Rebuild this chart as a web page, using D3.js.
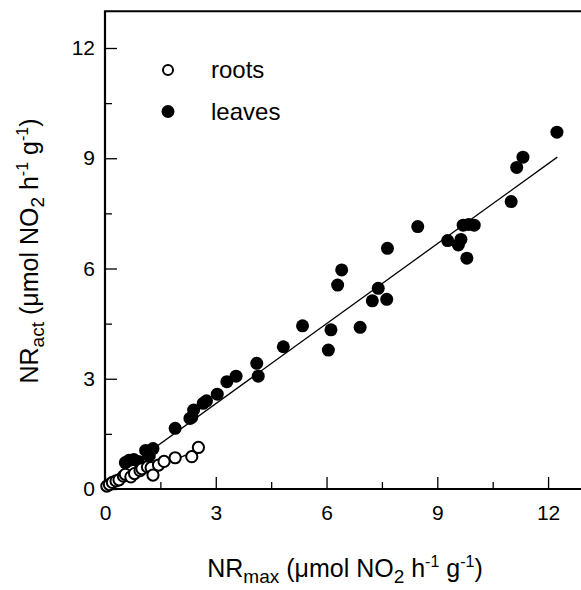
<!DOCTYPE html>
<html>
<head>
<meta charset="utf-8">
<script src="https://cdn.jsdelivr.net/npm/d3@7/dist/d3.min.js"></script>
<style>
  html, body { margin: 0; padding: 0; background: #fff; }
  svg { display: block; font-family: "Liberation Sans", Arial, sans-serif; }
</style>
</head>
<body>
<svg id="chart" width="581" height="590"></svg>
<script>
// ---- data ----
const leavesX = [0.55,0.65,0.78,0.9,1.1,1.3,1.2,1.9,2.3,2.4,2.35,2.66,2.75,3.04,3.3,3.55,4.11,4.15,4.83,5.35,6.05,6.12,6.91,6.30,6.41,7.24,7.40,7.63,7.65,8.47,9.28,9.57,9.64,9.80,9.70,9.85,10.0,11.0,11.15,11.32,12.24];
const leavesY = [0.72,0.78,0.8,0.75,1.05,1.1,0.9,1.65,1.92,2.15,1.95,2.33,2.40,2.58,2.92,3.07,3.42,3.07,3.87,4.44,3.78,4.33,4.40,5.55,5.96,5.12,5.46,5.16,6.55,7.14,6.76,6.64,6.79,6.28,7.18,7.2,7.18,7.82,8.75,9.03,9.71];
const rootsX = [0.05,0.12,0.2,0.3,0.38,0.5,0.55,0.7,0.8,0.95,1.0,1.15,1.25,1.3,1.45,1.6,1.9,2.35,2.53];
const rootsY = [0.08,0.12,0.18,0.22,0.25,0.35,0.4,0.33,0.42,0.5,0.55,0.6,0.58,0.38,0.65,0.75,0.85,0.88,1.13];
const leavesFitX = [0.1, 12.25];
const leavesFitY = [0.22, 9.03];
const rootsFitX = [0.05, 2.5];
const rootsFitY = [0.04, 1.05];
const majorTicks = [0, 3, 6, 9, 12];
const minorTicks = [1.5, 4.5, 7.5, 10.5];
const legendLabels = ["roots", "leaves"];

// ---- layout ----
const svg = d3.select("#chart");
const x = d3.scaleLinear().domain([0, 13]).range([105, 585]);
const y = d3.scaleLinear().domain([0, 13]).range([489, 11.25]);
const FONT = "Liberation Sans, Arial, sans-serif";

// minor ticks
svg.append("g").attr("transform", `translate(0,${y(0)})`)
  .call(d3.axisBottom(x).tickValues(minorTicks).tickSizeInner(-7).tickSizeOuter(0).tickFormat(""))
  .call(g => g.select(".domain").remove())
  .call(g => g.selectAll("line").attr("stroke-width", 1.3));
svg.append("g").attr("transform", `translate(${x(0)},0)`)
  .call(d3.axisLeft(y).tickValues(minorTicks).tickSizeInner(-7).tickSizeOuter(0).tickFormat(""))
  .call(g => g.select(".domain").remove())
  .call(g => g.selectAll("line").attr("stroke-width", 1.3));

// major ticks
svg.append("g").attr("transform", `translate(0,${y(0)})`)
  .call(d3.axisBottom(x).tickValues(majorTicks).tickSizeInner(-12).tickSizeOuter(0).tickPadding(16).tickFormat(d3.format("d")))
  .call(g => g.select(".domain").remove())
  .call(g => g.selectAll("line").attr("stroke-width", 1.3))
  .call(g => g.selectAll("text").attr("font-size", 21).attr("fill", "#000").attr("font-family", FONT));
svg.append("g").attr("transform", `translate(${x(0)},0)`)
  .call(d3.axisLeft(y).tickValues(majorTicks).tickSizeInner(-12).tickSizeOuter(0).tickPadding(10).tickFormat(d3.format("d")))
  .call(g => g.select(".domain").remove())
  .call(g => g.selectAll("line").attr("stroke-width", 1.3))
  .call(g => g.selectAll("text").attr("font-size", 21).attr("fill", "#000").attr("font-family", FONT));

// spines: left, bottom, top
svg.append("path")
  .attr("d", `M${x(13)},${y(13)}H${x(0)}V${y(0)}H${x(13)}`)
  .attr("fill", "none").attr("stroke", "#000").attr("stroke-width", 2.2);

// regression lines
const line = d3.line().x(d => x(d[0])).y(d => y(d[1]));
svg.append("path").datum(d3.zip(leavesFitX, leavesFitY)).attr("d", line)
  .attr("fill", "none").attr("stroke", "#000").attr("stroke-width", 1.3);
svg.append("path").datum(d3.zip(rootsFitX, rootsFitY)).attr("d", line)
  .attr("fill", "none").attr("stroke", "#000").attr("stroke-width", 1.3);

// points
svg.append("g").selectAll("circle").data(d3.zip(leavesX, leavesY)).join("circle")
  .attr("cx", d => x(d[0])).attr("cy", d => y(d[1])).attr("r", 6.5).attr("fill", "#000");
svg.append("g").selectAll("circle").data(d3.zip(rootsX, rootsY)).join("circle")
  .attr("cx", d => x(d[0])).attr("cy", d => y(d[1])).attr("r", 5.6)
  .attr("fill", "#fff").attr("stroke", "#000").attr("stroke-width", 2);

// legend
const leg = svg.append("g");
leg.append("circle").attr("cx", 168).attr("cy", 70).attr("r", 5).attr("fill", "#fff").attr("stroke", "#000").attr("stroke-width", 2);
leg.append("circle").attr("cx", 168).attr("cy", 111.5).attr("r", 6.5).attr("fill", "#000");
leg.selectAll("text").data(legendLabels).join("text")
  .attr("x", 211).attr("y", (d, i) => i === 0 ? 78 : 120)
  .attr("font-size", 24).text(d => d);

// axis titles
function richText(sel, parts) {
  parts.forEach(p => {
    const t = sel.append("tspan").text(p.t);
    if (p.s) t.attr("font-size", p.s);
    if (p.dy) t.attr("dy", p.dy);
  });
}
const titleParts = sub => [
  {t: "NR"}, {t: sub, s: 19, dy: 6}, {t: " (μmol NO", dy: -6}, {t: "2", s: 19, dy: 6},
  {t: " h", dy: -6}, {t: "-1", s: 16, dy: -10}, {t: " g", dy: 10}, {t: "-1", s: 16, dy: -10}, {t: ")", dy: 10}
];
const xt = svg.append("text").attr("x", 345).attr("y", 577).attr("text-anchor", "middle").attr("font-size", 25);
richText(xt, titleParts("max"));
const yt = svg.append("text").attr("transform", "translate(38,251) rotate(-90)").attr("text-anchor", "middle").attr("font-size", 25);
richText(yt, titleParts("act"));
</script>
</body>
</html>
